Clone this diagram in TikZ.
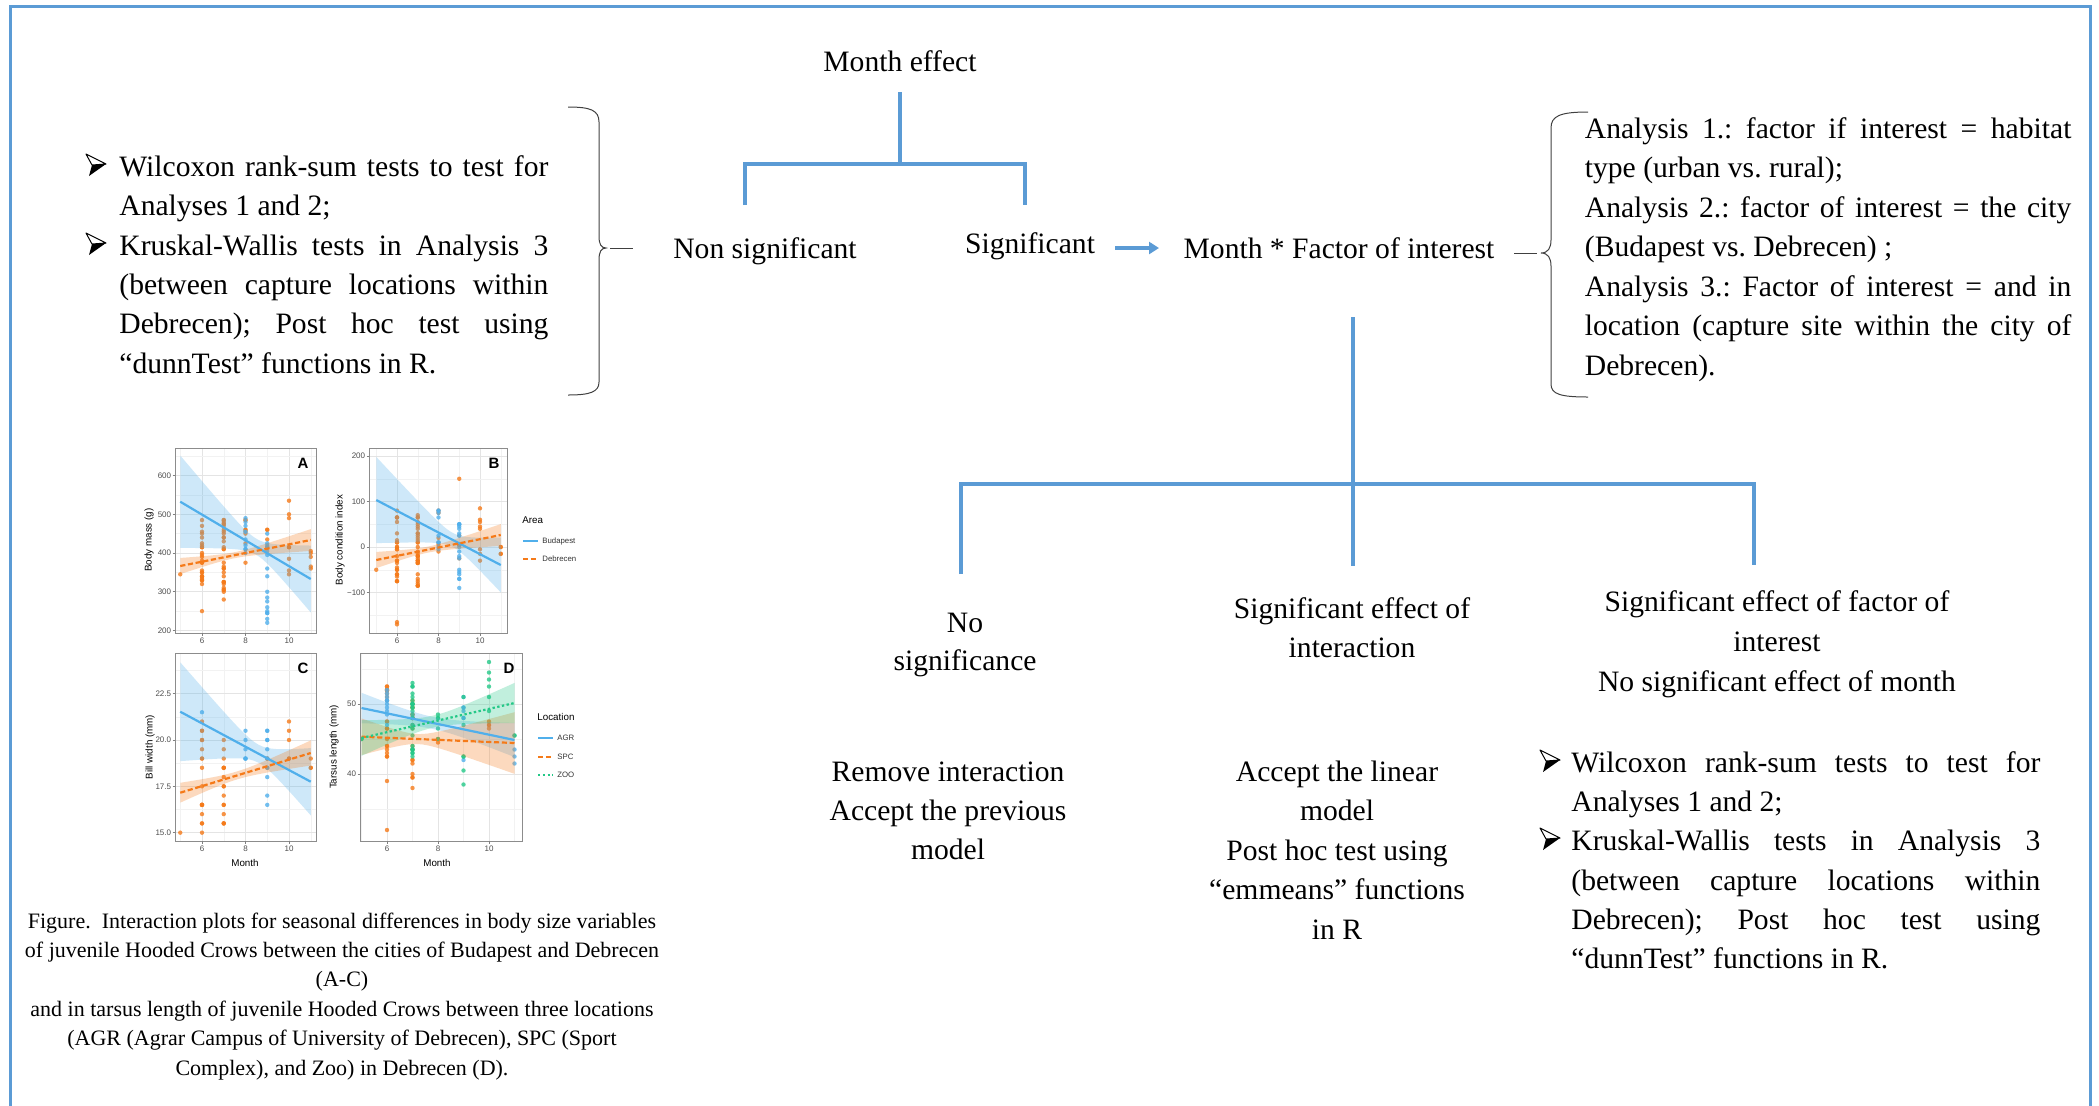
\documentclass[tikz,border=0pt]{standalone}
\usepackage{fontspec}
\setmainfont{Liberation Serif}
\setsansfont{Liberation Sans}
\usetikzlibrary{arrows.meta}
\frenchspacing
\definecolor{lnblue}{RGB}{91,155,213}
\definecolor{ptblue}{RGB}{80,175,235}
\definecolor{ptorange}{RGB}{245,122,25}
\definecolor{ptgreen}{RGB}{35,200,135}
\definecolor{gridc}{RGB}{228,228,228}
\definecolor{gridm}{RGB}{242,242,242}
\pgfmathdeclarefunction{AX}{1}{\pgfmathparse{202+(#1-6)*21.75}}
\pgfmathdeclarefunction{BX}{1}{\pgfmathparse{397+(#1-6)*20.75}}
\pgfmathdeclarefunction{DX}{1}{\pgfmathparse{387+(#1-6)*25.5}}
\pgfmathdeclarefunction{AY}{1}{\pgfmathparse{553-(#1-400)*0.3875}}
\pgfmathdeclarefunction{BY}{1}{\pgfmathparse{547-(#1)*0.455}}
\pgfmathdeclarefunction{CY}{1}{\pgfmathparse{740-(#1-20)*18.53}}
\pgfmathdeclarefunction{DY}{1}{\pgfmathparse{704-(#1-50)*7}}
\newcommand\jl[2]{\makebox[#1][s]{#2}}
% points: color, xfun, yfun, step, list m/lo/hi/n
\newcommand\crowpts[5]{%
  \foreach \qm/\qlo/\qhi/\qn in {#5}{%
    \foreach \qk in {1,...,\qn}{%
      \pgfmathsetmacro\qv{round(((\qlo)+rnd*((\qhi)-(\qlo)))/#4)*#4}%
      \fill[#1, opacity=.8] ({#2(\qm)},{#3(\qv)}) circle[radius=2.2];
    }}}
% band: color, xfun, y at m=5 (px), slope, a, b, m0
\newcommand\crowband[7]{%
  \fill[#1, opacity=.28] plot[domain=5:11, samples=31] ({#2(\x)},{#3+(#4)*(\x-5)-sqrt(#5*#5+#6*#6*(\x-#7)*(\x-#7))})
    -- plot[domain=11:5, samples=31] ({#2(\x)},{#3+(#4)*(\x-5)+sqrt(#5*#5+#6*#6*(\x-#7)*(\x-#7))}) -- cycle;}
% bullet arrowhead: x (left), baseline y
\newcommand\crowbul[2]{%
  \begin{scope}[shift={(#1,#2)}]
    \fill[black] (6,-11) -- (20,-12) -- (3,0) -- cycle;
    \draw[black, line width=0.5pt, fill=white, line join=round] (0,-22) -- (20,-12) -- (6,-11) -- cycle;
  \end{scope}}
\tikzset{
  conn/.style={draw=lnblue, line width=1.6pt},
  brc/.style={draw=black!75, line width=0.5pt},
  mt/.style={inner sep=0pt, font=\fontsize{14.8}{19.75}\selectfont, anchor=base},
  ml/.style={inner sep=0pt, font=\fontsize{14.8}{19.75}\selectfont, anchor=base west},
  captxt/.style={inner sep=0pt, font=\fontsize{11}{14}\selectfont, anchor=base},
  ticklab/.style={inner sep=0pt, font=\sffamily\fontsize{4}{5}\selectfont, text=black!70},
  atit/.style={inner sep=0pt, font=\sffamily\fontsize{4.9}{6}\selectfont},
  lgx/.style={inner sep=0pt, font=\sffamily\fontsize{3.9}{5}\selectfont, anchor=west, text=black!80},
  plet/.style={inner sep=0pt, font=\sffamily\bfseries\fontsize{7.5}{9}\selectfont},
  majg/.style={draw=gridc, line width=0.4pt},
  ming/.style={draw=gridm, line width=0.25pt},
  pframe/.style={draw=black!45, line width=0.4pt},
  fitb/.style={draw=ptblue, line width=1.1pt},
  fito/.style={draw=ptorange, line width=1.1pt, dash pattern=on 2.6pt off 1.3pt},
  fitg/.style={draw=ptgreen, line width=1.1pt, dash pattern=on 1.2pt off 1.2pt},
}
\begin{document}
\begin{tikzpicture}[x=0.5pt,y=-0.5pt]
\useasboundingbox (0,0) rectangle (2099,1105);
\pgfmathsetseed{7}
% outer frame
\draw[lnblue, line width=1.5pt] (10,1115) -- (10,6) -- (2090,6) -- (2090,1115);

% ---------- top tree ----------
\node[mt] (me) at (900,71) {Month effect};
\node[mt] (ns) at (765,258) {Non significant};
\node[mt] (sg) at (1030,253) {Significant};
\node[mt] (mf) at (1339,258) {Month * Factor of interest};
\coordinate (t0) at (900,92);
\coordinate (t1) at (900,164);
\coordinate (tl) at (745,164);
\coordinate (tr) at (1025,164);
\coordinate (tle) at (745,205);
\coordinate (tre) at (1025,205);
\draw[conn] (t0) -- (t1);
\draw[conn] (tle) -- (tl) -- (tr) -- (tre);
\coordinate (a0) at (1115,248);
\coordinate (a1) at (1159,248);
\draw[lnblue, line width=2pt, -{Triangle[length=5pt,width=6pt]}] (a0) -- (a1);

% left brace
\draw[brc] (568,107) .. controls (590,107) and (599,110) .. (599,122) -- (599,236)
  .. controls (599,244) and (601,248) .. (606,248) .. controls (601,248) and (599,252) .. (599,260)
  -- (599,382) .. controls (599,392) and (590,395) .. (568,395);
\coordinate (lbd0) at (610,248);
\coordinate (lbd1) at (633,248);
\draw[brc] (lbd0) -- (lbd1);
% right brace
\draw[brc] (1588,112) .. controls (1560,112) and (1551,116) .. (1551,128) -- (1551,240)
  .. controls (1551,248) and (1548,253) .. (1541,253) .. controls (1548,253) and (1551,258) .. (1551,266)
  -- (1551,384) .. controls (1551,394) and (1560,397) .. (1588,397);
\coordinate (rbd0) at (1514,253);
\coordinate (rbd1) at (1537,253);
\draw[brc] (rbd0) -- (rbd1);

% left text block
\crowbul{86}{176}
\node[ml] (lt1) at (119,176) {\jl{214.5pt}{Wilcoxon rank-sum tests to test for}};
\node[ml] (lt2) at (119,215) {Analyses 1 and 2;};
\crowbul{86}{255}
\node[ml] (lt3) at (119,255) {\jl{214.5pt}{Kruskal-Wallis tests in Analysis 3}};
\node[ml] (lt4) at (119,294) {\jl{214.5pt}{(between capture locations within}};
\node[ml] (lt5) at (119,333) {\jl{214.5pt}{Debrecen); Post hoc test using}};
\node[ml] (lt6) at (119,373) {“dunnTest” functions in R.};

% right text block
\node[ml] (rt1) at (1584.5,138) {\jl{243.25pt}{Analysis 1.: factor if interest = habitat}};
\node[ml] (rt2) at (1584.5,177.5) {type (urban vs. rural);};
\node[ml] (rt3) at (1584.5,217) {\jl{243.25pt}{Analysis 2.: factor of interest = the city}};
\node[ml] (rt4) at (1584.5,256.5) {(Budapest vs. Debrecen) ;};
\node[ml] (rt5) at (1584.5,296) {\jl{243.25pt}{Analysis 3.: Factor of interest = and in}};
\node[ml] (rt6) at (1584.5,335.5) {\jl{243.25pt}{location (capture site within the city of}};
\node[ml] (rt7) at (1584.5,375) {Debrecen).};

% ---------- lower tree ----------
\coordinate (b0) at (1353,317);
\coordinate (b1) at (1353,566);
\coordinate (bl) at (961,484);
\coordinate (br) at (1754,484);
\coordinate (ble) at (961,574);
\coordinate (bre) at (1754,565);
\draw[conn] (b0) -- (b1);
\draw[conn] (ble) -- (bl) -- (br) -- (bre);

\node[mt] (nos1) at (965,632) {No};
\node[mt] (nos2) at (965,670) {significance};
\node[mt] (sei1) at (1352,618) {Significant effect of};
\node[mt] (sei2) at (1352,657) {interaction};
\node[mt] (sef1) at (1777,611) {Significant effect of factor of};
\node[mt] (sef2) at (1777,651) {interest};
\node[mt] (sef3) at (1777,691) {No significant effect of month};

\node[mt] (ri1) at (948,781) {Remove interaction};
\node[mt] (ri2) at (948,820) {Accept the previous};
\node[mt] (ri3) at (948,859) {model};

\node[mt] (al1) at (1337,781) {Accept the linear};
\node[mt] (al2) at (1337,820) {model};
\node[mt] (al3) at (1337,860) {Post hoc test using};
\node[mt] (al4) at (1337,899) {“emmeans” functions};
\node[mt] (al5) at (1337,939) {in R};

\crowbul{1540}{772}
\node[ml] (rw1) at (1571,772) {\jl{234.5pt}{Wilcoxon rank-sum tests to test for}};
\node[ml] (rw2) at (1571,811) {Analyses 1 and 2;};
\crowbul{1540}{850}
\node[ml] (rw3) at (1571,850) {\jl{234.5pt}{Kruskal-Wallis tests in Analysis 3}};
\node[ml] (rw4) at (1571,890) {\jl{234.5pt}{(between capture locations within}};
\node[ml] (rw5) at (1571,929) {\jl{234.5pt}{Debrecen); Post hoc test using}};
\node[ml] (rw6) at (1571,968) {“dunnTest” functions in R.};

% ---------- caption ----------
\node[captxt] (c1) at (342,928) {Figure.\ \ Interaction plots for seasonal differences in body size variables};
\node[captxt] (c2) at (342,957.4) {of juvenile Hooded Crows between the cities of Budapest and Debrecen};
\node[captxt] (c3) at (342,986.8) {(A-C)};
\node[captxt] (c4) at (342,1016.2) {and in tarsus length of juvenile Hooded Crows between three locations};
\node[captxt] (c5) at (342,1045.6) {(AGR (Agrar Campus of University of Debrecen), SPC (Sport};
\node[captxt] (c6) at (342,1075) {Complex), and Zoo) in Debrecen (D).};

% ---------- Panel A ----------
\fill[white] (175,448) rectangle (316,633);
\begin{scope}
\clip (175,448) rectangle (316,633);
\foreach \m in {5,7,9,11} \draw[ming] ({AX(\m)},448) -- ({AX(\m)},633);
\foreach \m in {6,8,10} \draw[majg] ({AX(\m)},448) -- ({AX(\m)},633);
\foreach \v in {250,350,450,550,650} \draw[ming] (175,{AY(\v)}) -- (316,{AY(\v)});
\foreach \v in {200,300,400,500,600} \draw[majg] (175,{AY(\v)}) -- (316,{AY(\v)});
\crowpts{ptorange}{AX}{AY}{5}{5/345/345/1,6/310/490/26,6/250/250/1,7/265/490/30,8/370/495/8,9/370/470/4,10/345/545/8,11/360/415/5}
\crowpts{ptblue}{AX}{AY}{5}{8/395/490/9,9/215/495/17}
\crowband{ptblue}{AX}{501.7}{12.88}{8}{13}{8.5}
\crowband{ptorange}{AX}{566}{-4.33}{3}{3}{7.5}
\draw[fitb] (180.25,501.7) -- (310.75,579);
\draw[fito] (180.25,566) -- (310.75,540);
\end{scope}
\draw[pframe] (175,448) rectangle (316,633);
\node[plet] (pA) at (303,463) {A};
\foreach \v [count=\i] in {200,300,400,500,600} {
  \draw[black!50, line width=0.3pt] (172.5,{AY(\v)}) -- (175,{AY(\v)});
  \node[ticklab, anchor=east] (tA\i) at (171.5,{AY(\v)}) {\v};}
\foreach \m [count=\i] in {6,8,10} {
  \draw[black!50, line width=0.3pt] ({AX(\m)},633) -- ({AX(\m)},635.5);
  \node[ticklab, anchor=north] (xA\i) at ({AX(\m)},637) {\m};}
\node[atit, rotate=90] (yA) at (149,540) {Body mass (g)};

% ---------- Panel B ----------
\fill[white] (369,448) rectangle (507,633);
\begin{scope}
\clip (369,448) rectangle (507,633);
\foreach \m in {5,7,9,11} \draw[ming] ({BX(\m)},448) -- ({BX(\m)},633);
\foreach \m in {6,8,10} \draw[majg] ({BX(\m)},448) -- ({BX(\m)},633);
\foreach \v in {-150,-50,50,150} \draw[ming] (369,{BY(\v)}) -- (507,{BY(\v)});
\foreach \v in {-100,0,100,200} \draw[majg] (369,{BY(\v)}) -- (507,{BY(\v)});
\crowpts{ptorange}{BX}{BY}{5}{5/-50/-50/1,6/-85/85/26,6/-170/-160/2,7/-90/90/34,8/-20/85/6,9/-30/45/5,9/152/152/1,10/-40/90/8,11/-30/5/4}
\crowpts{ptblue}{BX}{BY}{5}{8/-10/95/9,9/-90/50/17}
\crowband{ptblue}{BX}{500}{10.83}{7}{11.5}{8.7}
\crowband{ptorange}{BX}{560}{-4.17}{3}{3}{7.5}
\draw[fitb] (376.25,500) -- (500.75,565);
\draw[fito] (376.25,560) -- (500.75,535);
\end{scope}
\draw[pframe] (369,448) rectangle (507,633);
\node[plet] (pB) at (494,463) {B};
\foreach \v/\t [count=\i] in {-100/−100,0/0,100/100,200/200} {
  \draw[black!50, line width=0.3pt] (366.5,{BY(\v)}) -- (369,{BY(\v)});
  \node[ticklab, anchor=east] (tB\i) at (365.5,{BY(\v)}) {\t};}
\foreach \m [count=\i] in {6,8,10} {
  \draw[black!50, line width=0.3pt] ({BX(\m)},633) -- ({BX(\m)},635.5);
  \node[ticklab, anchor=north] (xB\i) at ({BX(\m)},637) {\m};}
\node[atit, rotate=90] (yB) at (340,540) {Body condition index};
% legend Area
\node[atit, anchor=west] (lgA) at (522,520) {Area};
\coordinate (kA1a) at (523,541); \coordinate (kA1b) at (538,541);
\coordinate (kA2a) at (523,559); \coordinate (kA2b) at (538,559);
\draw[fitb] (kA1a) -- (kA1b);
\draw[fito] (kA2a) -- (kA2b);
\node[lgx] (lgA1) at (542,541) {Budapest};
\node[lgx] (lgA2) at (542,559) {Debrecen};

% ---------- Panel C ----------
\fill[white] (175,653) rectangle (316,841);
\begin{scope}
\clip (175,653) rectangle (316,841);
\foreach \m in {5,7,9,11} \draw[ming] ({AX(\m)},653) -- ({AX(\m)},841);
\foreach \m in {6,8,10} \draw[majg] ({AX(\m)},653) -- ({AX(\m)},841);
\foreach \v in {16.25,18.75,21.25,23.75} \draw[ming] (175,{CY(\v)}) -- (316,{CY(\v)});
\foreach \v in {15,17.5,20,22.5} \draw[majg] (175,{CY(\v)}) -- (316,{CY(\v)});
\crowpts{ptorange}{AX}{CY}{0.5}{5/15/15/1,6/15/21/18,7/15/20/16,9/17.5/20/3,10/18/21/5,11/18/19/3}
\crowpts{ptblue}{AX}{CY}{0.5}{6/21.5/21.5/1,8/18/21/6,9/16.5/21.5/10}
\crowband{ptblue}{AX}{711.7}{11.67}{9}{13.5}{8.6}
\crowband{ptorange}{AX}{792.7}{-6.62}{4}{3.5}{7.6}
\draw[fitb] (180.25,711.7) -- (310.75,781.7);
\draw[fito] (180.25,792.7) -- (310.75,753);
\end{scope}
\draw[pframe] (175,653) rectangle (316,841);
\node[plet] (pC) at (303,668) {C};
\foreach \v/\t [count=\i] in {15/15.0,17.5/17.5,20/20.0,22.5/22.5} {
  \draw[black!50, line width=0.3pt] (172.5,{CY(\v)}) -- (175,{CY(\v)});
  \node[ticklab, anchor=east] (tC\i) at (171.5,{CY(\v)}) {\t};}
\foreach \m [count=\i] in {6,8,10} {
  \draw[black!50, line width=0.3pt] ({AX(\m)},841) -- ({AX(\m)},843.5);
  \node[ticklab, anchor=north] (xC\i) at ({AX(\m)},845) {\m};}
\node[atit, rotate=90] (yC) at (150,747) {Bill width (mm)};
\node[atit] (mC) at (245,863) {Month};

% ---------- Panel D ----------
\fill[white] (360,653) rectangle (522,841);
\begin{scope}
\clip (360,653) rectangle (522,841);
\foreach \m in {5,7,9,11} \draw[ming] ({DX(\m)},653) -- ({DX(\m)},841);
\foreach \m in {6,8,10} \draw[majg] ({DX(\m)},653) -- ({DX(\m)},841);
\foreach \v in {35,45,55} \draw[ming] (360,{DY(\v)}) -- (522,{DY(\v)});
\foreach \v in {40,50} \draw[majg] (360,{DY(\v)}) -- (522,{DY(\v)});
\crowpts{ptorange}{DX}{DY}{0.5}{6/42/53/20,6/39/39/1,6/32/32/1,7/37.5/51/20,8/44.5/45/2,10/46/48/4}
\crowpts{ptblue}{DX}{DY}{0.5}{6/47/52/10,9/46/51/6,9/42/42/1,11/41/46/3}
\crowpts{ptgreen}{DX}{DY}{0.5}{5/45/45.5/2,7/42/53.5/26,8/44.5/49/5,9/37/53/6,10/49/56/6,11/45.5/46/2}
\crowband{ptblue}{DX}{708}{5.33}{6}{5}{7.8}
\crowband{ptorange}{DX}{736.7}{1.05}{5}{8}{7.2}
\crowband{ptgreen}{DX}{738}{-5.83}{6}{6}{7.8}
\draw[fitb] (361.5,708) -- (514.5,740);
\draw[fito] (361.5,736.7) -- (514.5,743);
\draw[fitg] (361.5,738) -- (514.5,703);
\end{scope}
\draw[pframe] (360,653) rectangle (522,841);
\node[plet] (pD) at (509,668) {D};
\foreach \v [count=\i] in {40,50} {
  \draw[black!50, line width=0.3pt] (357.5,{DY(\v)}) -- (360,{DY(\v)});
  \node[ticklab, anchor=east] (tD\i) at (356.5,{DY(\v)}) {\v};}
\foreach \m [count=\i] in {6,8,10} {
  \draw[black!50, line width=0.3pt] ({DX(\m)},841) -- ({DX(\m)},843.5);
  \node[ticklab, anchor=north] (xD\i) at ({DX(\m)},845) {\m};}
\node[atit, rotate=90] (yD) at (334,747) {Tarsus length (mm)};
\node[atit] (mD) at (437,863) {Month};
% legend Location
\node[atit, anchor=west] (lgL) at (537,717) {Location};
\coordinate (kL1a) at (538,738); \coordinate (kL1b) at (553,738);
\coordinate (kL2a) at (538,757); \coordinate (kL2b) at (553,757);
\coordinate (kL3a) at (538,775); \coordinate (kL3b) at (553,775);
\draw[fitb] (kL1a) -- (kL1b);
\draw[fito] (kL2a) -- (kL2b);
\draw[fitg] (kL3a) -- (kL3b);
\node[lgx] (lgL1) at (557,738) {AGR};
\node[lgx] (lgL2) at (557,757) {SPC};
\node[lgx] (lgL3) at (557,775) {ZOO};
\end{tikzpicture}
\end{document}
